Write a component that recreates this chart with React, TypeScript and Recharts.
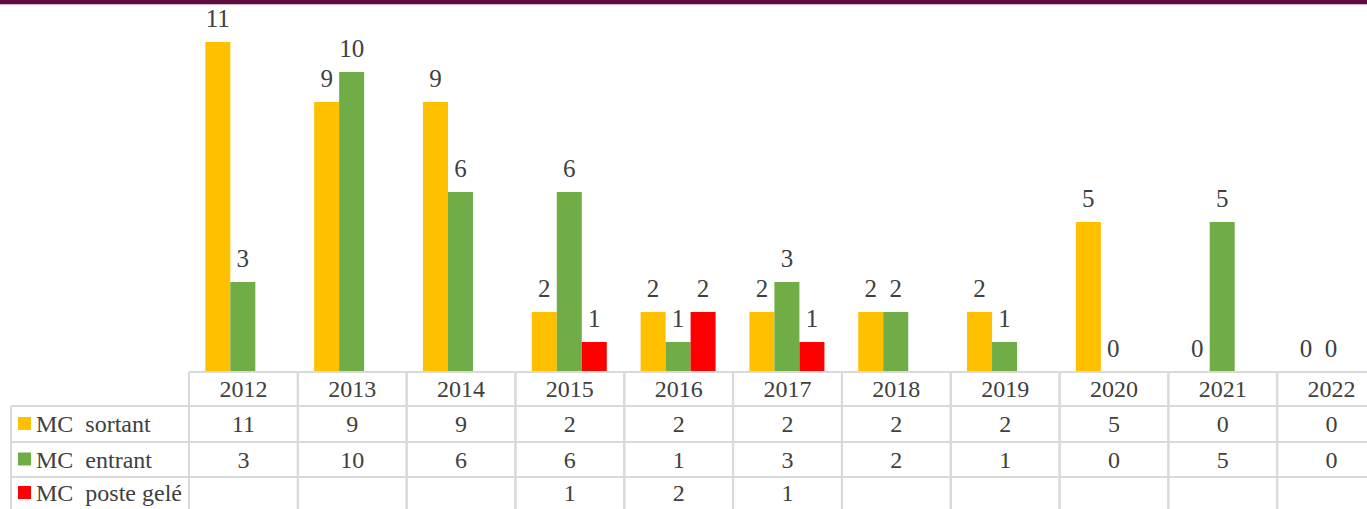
import { BarChart, Bar, XAxis, YAxis, LabelList } from "recharts"

const years = ["2012", "2013", "2014", "2015", "2016", "2017", "2018", "2019", "2020", "2021", "2022"]
const sortant = [11, 9, 9, 2, 2, 2, 2, 2, 5, 0, 0]
const entrant = [3, 10, 6, 6, 1, 3, 2, 1, 0, 5, 0]
const posteGele: (number | null)[] = [null, null, null, 1, 2, 1, null, null, null, null, null]

const series = [
  { key: "sortant", name: "MC  sortant", color: "#FFC000", values: sortant },
  { key: "entrant", name: "MC  entrant", color: "#70AD47", values: entrant },
  { key: "gele", name: "MC  poste gelé", color: "#FF0000", values: posteGele },
]

const data = years.map((year, i) => ({
  year,
  sortant: sortant[i],
  entrant: entrant[i],
  gele: posteGele[i],
}))

const W = 1386
const H = 509
const LEFT = 189
const BASE = 372
const ROWS = [372, 406, 442, 477, 509]
const BAND = (W - LEFT) / years.length
const FONT = "'Liberation Serif', 'Times New Roman', serif"
const TEXT = "#404040"
const GRID = "#d9d9d9"
const FS = 24

function TableTick(props: any) {
  const { x, payload } = props
  const i = payload.index
  const x0 = x - BAND / 2
  const x1 = x + BAND / 2
  return (
    <g>
      {ROWS.slice(0, 4).map((ry) => (
        <line key={ry} x1={x0} x2={x1} y1={ry} y2={ry} stroke={GRID} strokeWidth={2} />
      ))}
      <line x1={x0} x2={x0} y1={BASE} y2={H} stroke={GRID} strokeWidth={2} />
      <line x1={x1} x2={x1} y1={BASE} y2={H} stroke={GRID} strokeWidth={2} />
      <text x={x} y={(ROWS[0] + ROWS[1]) / 2 + 8} textAnchor="middle" fill={TEXT} fontSize={FS} fontFamily={FONT}>
        {payload.value}
      </text>
      {series.map((s, r) => (
        <text key={s.key} x={x} y={(ROWS[r + 1] + ROWS[r + 2]) / 2 + 8} textAnchor="middle" fill={TEXT} fontSize={FS} fontFamily={FONT}>
          {s.values[i] == null ? "" : s.values[i]}
        </text>
      ))}
    </g>
  )
}

function BarLabel(props: any) {
  const { x, y, width, height, value } = props
  if (value == null) return null
  // zero bars get a 1px min height so their label exists; anchor it on the baseline
  const top = value === 0 ? Number(y) + Number(height) : Number(y)
  return (
    <text x={Number(x) + Number(width) / 2} y={top - 15} textAnchor="middle" fill={TEXT} fontSize={25} fontFamily={FONT}>
      {value}
    </text>
  )
}

function makeShape(key: string) {
  return (props: any) => {
    const { x, y, width, height, fill, payload } = props
    const v = payload ? payload[key] : null
    if (v == null || v === 0) return <g />
    return <rect x={x} y={y} width={width} height={height} fill={fill} />
  }
}

export default function App() {
  return (
    <div style={{ position: "absolute", left: 0, top: 0, width: 1367, height: 509, overflow: "hidden", background: "#fff" }}>
      <div style={{ position: "absolute", left: 0, top: 0, width: 1367, height: 4, background: "#5c0c3f" }} />
      <div style={{ position: "absolute", left: 0, top: 4, width: 1367, height: 1, background: "#d4b3c6" }} />
      <BarChart
        width={W}
        height={H}
        data={data}
        margin={{ top: 42, right: 0, bottom: 0, left: LEFT }}
        barCategoryGap="15%"
        barGap={0}
      >
        <XAxis dataKey="year" axisLine={false} tickLine={false} interval={0} height={137} tick={<TableTick />} />
        <YAxis hide domain={[0, 11]} />
        {series.map((s) => (
          <Bar key={s.key} dataKey={s.key} fill={s.color} minPointSize={1} shape={makeShape(s.key)} isAnimationActive={false}>
            <LabelList dataKey={s.key} content={<BarLabel />} />
          </Bar>
        ))}
      </BarChart>
      <svg style={{ position: "absolute", left: 0, top: 0 }} width={LEFT + 2} height={H}>
        {ROWS.slice(1, 4).map((ry) => (
          <line key={ry} x1={11} x2={LEFT} y1={ry} y2={ry} stroke={GRID} strokeWidth={2} />
        ))}
        <line x1={11} x2={11} y1={ROWS[1]} y2={H} stroke={GRID} strokeWidth={2} />
        {series.map((s, r) => {
          const cy = (ROWS[r + 1] + ROWS[r + 2]) / 2
          return (
            <g key={s.key}>
              <rect x={18} y={cy - 7} width={13} height={13} fill={s.color} />
              <text x={36} y={cy + 8} fill={TEXT} fontSize={FS} fontFamily={FONT} style={{ whiteSpace: "pre" }}>
                {s.name}
              </text>
            </g>
          )
        })}
      </svg>
    </div>
  )
}
